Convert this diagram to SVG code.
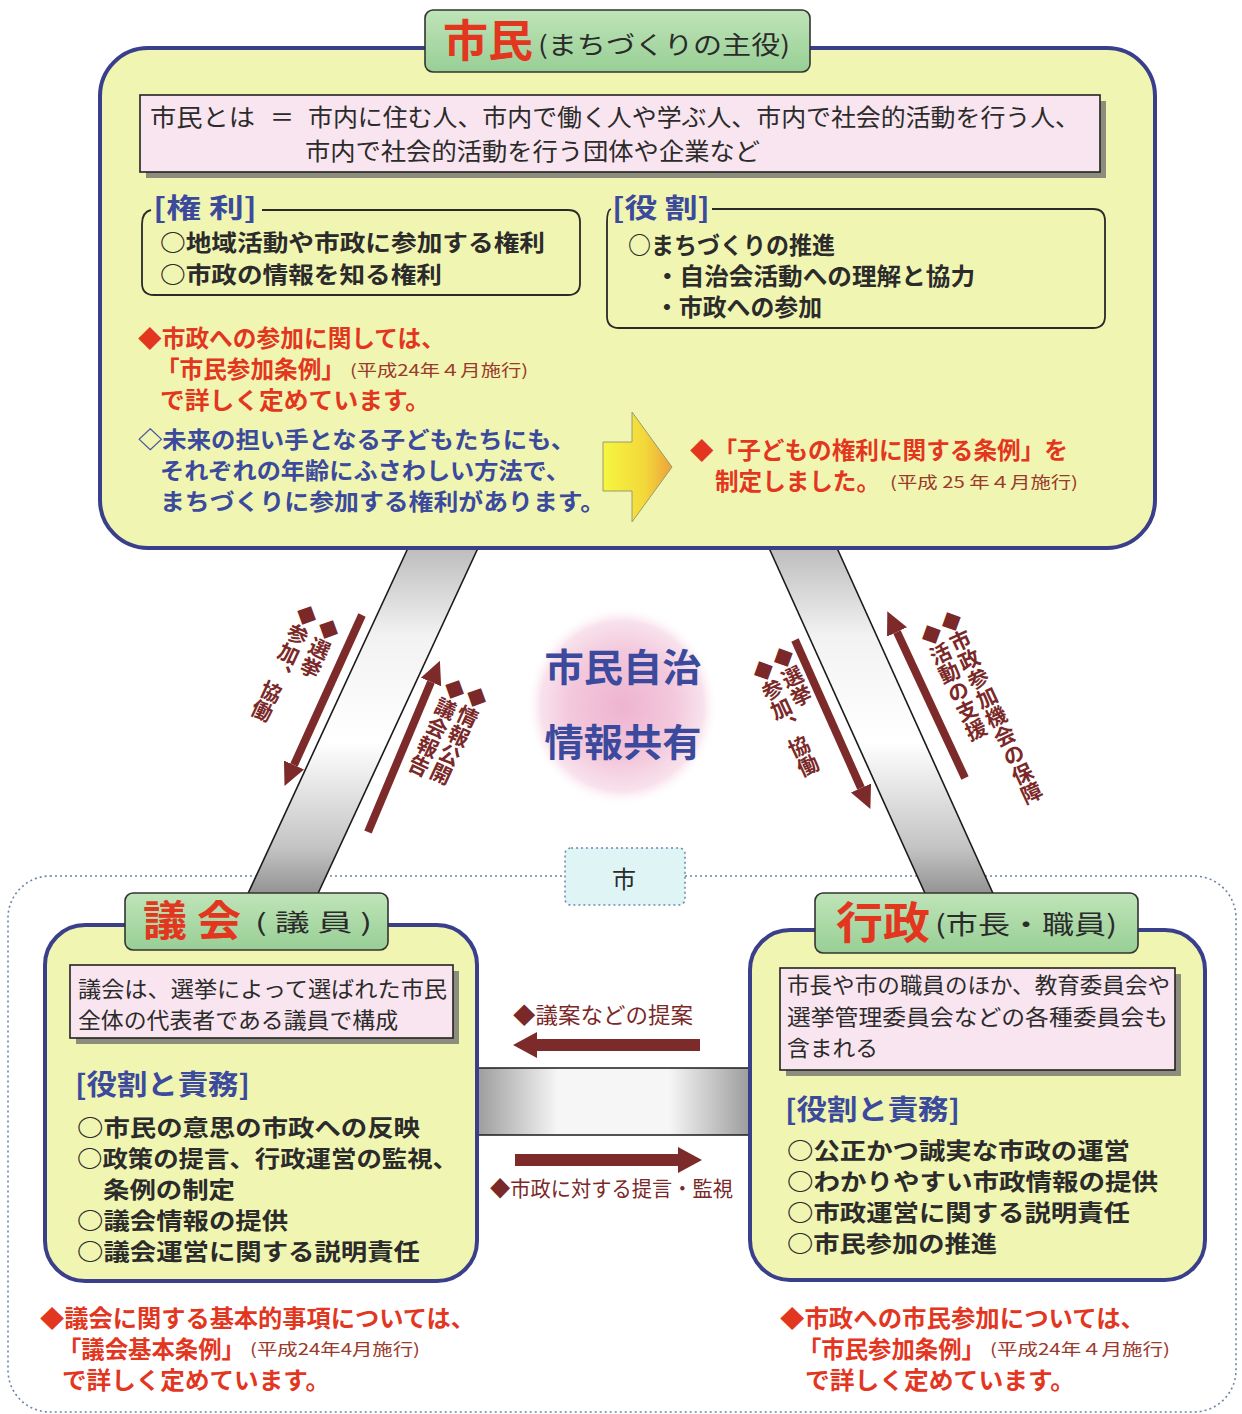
<svg xmlns="http://www.w3.org/2000/svg" width="1242" height="1414" viewBox="0 0 1242 1414">
<defs>
<style>
.t{font-family:'Noto Sans CJK JP','Noto Sans CJK SC',sans-serif}
.b{font-weight:700}
.dk{fill:#2b2b2b}
.red{fill:#e3361f}
.blue{fill:#3b4a9c}
.mar{fill:#7a2828}
.sm{font-size:16px;font-weight:400;fill:#9a3a2c}
.frame{fill:#f1f5b2;stroke:#3a3f8c;stroke-width:4}
.tab{fill:url(#tabg);stroke:#333;stroke-width:1.6}
.pink{fill:#f9e5ef;stroke:#222;stroke-width:1.6}
.shadow{fill:#6a6a6a;opacity:.75}
.outline{fill:none;stroke:#2a2a2a;stroke-width:1.8}
.arw{stroke:#7d2a2a;stroke-width:8;fill:none}
.edge{stroke:#1a1a1a;stroke-width:1.6}
.li{font-size:23.5px}
.lj{font-size:23px}
</style>
<linearGradient id="tabg" x1="0" y1="0" x2="0" y2="1">
<stop offset="0" stop-color="#bfe4b8"/><stop offset="1" stop-color="#98cf95"/>
</linearGradient>
<linearGradient id="bandL" gradientUnits="userSpaceOnUse" x1="0" y1="548" x2="0" y2="900">
<stop offset="0" stop-color="#bdbdbd"/><stop offset="0.25" stop-color="#f2f2f2"/><stop offset="0.55" stop-color="#ffffff"/><stop offset="0.85" stop-color="#c4c4c4"/><stop offset="1" stop-color="#8c8c8c"/>
</linearGradient>
<linearGradient id="bandH" gradientUnits="userSpaceOnUse" x1="475" y1="0" x2="752" y2="0">
<stop offset="0" stop-color="#9a9a9a"/><stop offset="0.3" stop-color="#f6f6f6"/><stop offset="0.7" stop-color="#f6f6f6"/><stop offset="1" stop-color="#9a9a9a"/>
</linearGradient>
<linearGradient id="yel" x1="0" y1="0" x2="1" y2="0">
<stop offset="0" stop-color="#f6f640"/><stop offset="0.6" stop-color="#f3d83a"/><stop offset="1" stop-color="#eea23a"/>
</linearGradient>
<radialGradient id="pinkc" cx="0.5" cy="0.5" r="0.5">
<stop offset="0" stop-color="#eeb4d0"/><stop offset="0.55" stop-color="#f3c8dc"/><stop offset="0.85" stop-color="#f8e2ec"/><stop offset="1" stop-color="#ffffff" stop-opacity="0"/>
</radialGradient>
<marker id="ah" markerUnits="userSpaceOnUse" markerWidth="24" markerHeight="24" refX="0" refY="11" orient="auto" viewBox="0 0 24 22">
<path d="M0,0 L23,11 L0,22 z" fill="#7d2a2a"/>
</marker>
</defs>
<rect width="1242" height="1414" fill="#ffffff"/>

<!-- dotted city boundary -->
<g id="city">
<rect x="8" y="876" width="1228" height="536" rx="42" fill="none" stroke="#6f83a8" stroke-width="1.6" stroke-dasharray="2,3"/>
<rect x="565" y="848" width="120" height="57" rx="6" fill="#dff5f5" stroke="#6f8ab0" stroke-width="1.6" stroke-dasharray="2,3"/>
<text class="t dk" x="624" y="888" font-size="24" text-anchor="middle">市</text>
</g>

<!-- connectors -->
<g id="connectors">
<polygon points="408,548 478,548 315,900 245,900" fill="url(#bandL)"/>
<line class="edge" x1="408" y1="548" x2="245" y2="900"/>
<line class="edge" x1="478" y1="548" x2="315" y2="900"/>
<polygon points="769,548 837,548 996,900 928,900" fill="url(#bandL)"/>
<line class="edge" x1="769" y1="548" x2="928" y2="900"/>
<line class="edge" x1="837" y1="548" x2="996" y2="900"/>
<rect x="470" y="1068" width="290" height="67" fill="url(#bandH)"/>
<line class="edge" x1="470" y1="1068" x2="760" y2="1068"/>
<line class="edge" x1="470" y1="1135" x2="760" y2="1135"/>

<line class="arw" x1="362" y1="615" x2="294" y2="765" marker-end="url(#ah)"/>
<line class="arw" x1="368" y1="832" x2="431" y2="682" marker-end="url(#ah)"/>
<line class="arw" x1="795" y1="640" x2="861" y2="788" marker-end="url(#ah)"/>
<line class="arw" x1="965" y1="778" x2="897" y2="632" marker-end="url(#ah)"/>

<polygon points="700,1039 537,1039 537,1032 513,1045 537,1058 537,1051 700,1051" fill="#7d2a2a"/>
<polygon points="515,1154 678,1154 678,1147 702,1160 678,1173 678,1166 515,1166" fill="#7d2a2a"/>

<g class="t b mar" font-size="21">
<text writing-mode="vertical-rl" transform="translate(333,620) rotate(25)">◆選挙</text>
<text writing-mode="vertical-rl" transform="translate(311,606) rotate(25)">◆参加、協働</text>
<text writing-mode="vertical-rl" transform="translate(481,688) rotate(25)">◆情報公開</text>
<text writing-mode="vertical-rl" transform="translate(459,680) rotate(25)">◆議会報告</text>
<text writing-mode="vertical-rl" transform="translate(779,648) rotate(-25)">◆選挙</text>
<text writing-mode="vertical-rl" transform="translate(759,661) rotate(-25)">◆参加、協働</text>
<text writing-mode="vertical-rl" transform="translate(947,612) rotate(-25)">◆市政参加機会の保障</text>
<text writing-mode="vertical-rl" transform="translate(927,625) rotate(-25)">◆活動の支援</text>
</g>
<text class="t mar" x="513" y="1023" font-size="22" textLength="180" lengthAdjust="spacingAndGlyphs">◆議案などの提案</text>
<text class="t mar" x="490" y="1196" font-size="21" textLength="243" lengthAdjust="spacingAndGlyphs">◆市政に対する提言・監視</text>
</g>

<!-- center -->
<g id="center">
<ellipse cx="622" cy="706" rx="96" ry="100" fill="url(#pinkc)"/>
<text class="t b blue" x="623" y="681" font-size="38" text-anchor="middle" textLength="157" lengthAdjust="spacingAndGlyphs">市民自治</text>
<text class="t b blue" x="623" y="756" font-size="38" text-anchor="middle" textLength="157" lengthAdjust="spacingAndGlyphs">情報共有</text>
</g>

<!-- citizens node -->
<g id="shimin">
<rect class="frame" x="100" y="48" width="1055" height="500" rx="48"/>
<rect class="tab" x="425" y="10" width="385" height="62" rx="8"/>
<text class="t b red" x="443" y="57" font-size="44" textLength="90" lengthAdjust="spacingAndGlyphs">市民</text>
<text class="t dk" x="538" y="54" font-size="25" textLength="252" lengthAdjust="spacingAndGlyphs">(まちづくりの主役)</text>

<rect class="shadow" x="146" y="101" width="960" height="77"/>
<rect class="pink" x="140" y="95" width="960" height="77"/>
<text class="t dk" x="150" y="126" font-size="24" textLength="105" lengthAdjust="spacingAndGlyphs">市民とは</text>
<text class="t dk" x="270" y="126" font-size="24">＝</text>
<text class="t dk" x="308" y="126" font-size="24" textLength="772" lengthAdjust="spacingAndGlyphs">市内に住む人、市内で働く人や学ぶ人、市内で社会的活動を行う人、</text>
<text class="t dk" x="305" y="160" font-size="24" textLength="455" lengthAdjust="spacingAndGlyphs">市内で社会的活動を行う団体や企業など</text>

<path class="outline" d="M262,210 H568 Q580,210 580,222 V283 Q580,295 568,295 H154 Q142,295 142,283 V224 Q142,212 151,210"/>
<text class="t b blue" x="153" y="218" font-size="27" textLength="104" lengthAdjust="spacingAndGlyphs">[権 利]</text>
<text class="t b dk lj" x="160" y="251" textLength="385" lengthAdjust="spacingAndGlyphs">○地域活動や市政に参加する権利</text>
<text class="t b dk lj" x="160" y="283" textLength="282" lengthAdjust="spacingAndGlyphs">○市政の情報を知る権利</text>

<path class="outline" d="M712,209 H1093 Q1105,209 1105,221 V316 Q1105,328 1093,328 H619 Q607,328 607,316 V222 Q607,210 611,209"/>
<text class="t b blue" x="612" y="218" font-size="27" textLength="98" lengthAdjust="spacingAndGlyphs">[役 割]</text>
<text class="t b dk li" x="628" y="254" textLength="207" lengthAdjust="spacingAndGlyphs">○まちづくりの推進</text>
<text class="t b dk li" x="655" y="285" textLength="320" lengthAdjust="spacingAndGlyphs">・自治会活動への理解と協力</text>
<text class="t b dk li" x="655" y="316" textLength="167" lengthAdjust="spacingAndGlyphs">・市政への参加</text>

<text class="t b red li" x="138" y="347" textLength="307" lengthAdjust="spacingAndGlyphs">◆市政への参加に関しては、</text>
<text class="t b red li" x="156" y="378" textLength="189" lengthAdjust="spacingAndGlyphs">「市民参加条例」</text>
<text class="t sm" x="350" y="376" textLength="178" lengthAdjust="spacingAndGlyphs">(平成24年４月施行)</text>
<text class="t b red li" x="160" y="409" textLength="270" lengthAdjust="spacingAndGlyphs">で詳しく定めています。</text>

<text class="t b blue lj" x="138" y="448" textLength="437" lengthAdjust="spacingAndGlyphs">◇未来の担い手となる子どもたちにも、</text>
<text class="t b blue lj" x="160" y="479" textLength="410" lengthAdjust="spacingAndGlyphs">それぞれの年齢にふさわしい方法で、</text>
<text class="t b blue lj" x="160" y="510" textLength="445" lengthAdjust="spacingAndGlyphs">まちづくりに参加する権利があります。</text>

<polygon points="603,442 632,442 632,412 672,467 632,522 632,491 603,491" fill="url(#yel)" stroke="#9a9a70" stroke-width="1"/>

<text class="t b red li" x="690" y="459" textLength="378" lengthAdjust="spacingAndGlyphs">◆「子どもの権利に関する条例」を</text>
<text class="t b red li" x="715" y="490" textLength="165" lengthAdjust="spacingAndGlyphs">制定しました。</text>
<text class="t sm" x="890" y="488" textLength="188" lengthAdjust="spacingAndGlyphs">(平成 25 年４月施行)</text>
</g>

<!-- council node -->
<g id="gikai">
<rect class="frame" x="45" y="925" width="432" height="356" rx="40"/>
<rect class="tab" x="125" y="893" width="263" height="57" rx="8"/>
<text class="t b red" x="143" y="936" font-size="42" textLength="98" lengthAdjust="spacingAndGlyphs">議 会</text>
<text class="t dk" x="255" y="931" font-size="24" textLength="117" lengthAdjust="spacingAndGlyphs">( 議 員 )</text>
<rect class="shadow" x="76" y="971" width="383" height="73"/>
<rect class="pink" x="70" y="965" width="383" height="73"/>
<text class="t dk" x="78" y="997" font-size="22" textLength="369" lengthAdjust="spacingAndGlyphs">議会は、選挙によって選ばれた市民</text>
<text class="t dk" x="78" y="1028" font-size="22" textLength="320" lengthAdjust="spacingAndGlyphs">全体の代表者である議員で構成</text>
<text class="t b blue" x="75" y="1095" font-size="28" textLength="175" lengthAdjust="spacingAndGlyphs">[役割と責務]</text>
<text class="t b dk lj" x="77" y="1136" textLength="343" lengthAdjust="spacingAndGlyphs">○市民の意思の市政への反映</text>
<text class="t b dk lj" x="77" y="1167" textLength="381" lengthAdjust="spacingAndGlyphs">○政策の提言、行政運営の監視、</text>
<text class="t b dk lj" x="103" y="1198" textLength="132" lengthAdjust="spacingAndGlyphs">条例の制定</text>
<text class="t b dk lj" x="77" y="1229" textLength="211" lengthAdjust="spacingAndGlyphs">○議会情報の提供</text>
<text class="t b dk lj" x="77" y="1260" textLength="343" lengthAdjust="spacingAndGlyphs">○議会運営に関する説明責任</text>
<text class="t b red li" x="40" y="1327" textLength="435" lengthAdjust="spacingAndGlyphs">◆議会に関する基本的事項については、</text>
<text class="t b red li" x="58" y="1358" textLength="187" lengthAdjust="spacingAndGlyphs">「議会基本条例」</text>
<text class="t sm" x="250" y="1355" textLength="170" lengthAdjust="spacingAndGlyphs">(平成24年4月施行)</text>
<text class="t b red li" x="62" y="1389" textLength="268" lengthAdjust="spacingAndGlyphs">で詳しく定めています。</text>
</g>

<!-- administration node -->
<g id="gyosei">
<rect class="frame" x="750" y="930" width="455" height="350" rx="40"/>
<rect class="tab" x="815" y="893" width="323" height="60" rx="8"/>
<text class="t b red" x="836" y="939" font-size="44" textLength="94" lengthAdjust="spacingAndGlyphs">行政</text>
<text class="t dk" x="935" y="934" font-size="26" textLength="182" lengthAdjust="spacingAndGlyphs">(市長・職員)</text>
<rect class="shadow" x="786" y="974" width="395" height="102"/>
<rect class="pink" x="780" y="968" width="395" height="102"/>
<text class="t dk" x="787" y="993" font-size="22" textLength="383" lengthAdjust="spacingAndGlyphs">市長や市の職員のほか、教育委員会や</text>
<text class="t dk" x="787" y="1025" font-size="22" textLength="381" lengthAdjust="spacingAndGlyphs">選挙管理委員会などの各種委員会も</text>
<text class="t dk" x="787" y="1056" font-size="22" textLength="91" lengthAdjust="spacingAndGlyphs">含まれる</text>
<text class="t b blue" x="785" y="1120" font-size="28" textLength="175" lengthAdjust="spacingAndGlyphs">[役割と責務]</text>
<text class="t b dk lj" x="787" y="1159" textLength="343" lengthAdjust="spacingAndGlyphs">○公正かつ誠実な市政の運営</text>
<text class="t b dk lj" x="787" y="1190" textLength="371" lengthAdjust="spacingAndGlyphs">○わかりやすい市政情報の提供</text>
<text class="t b dk lj" x="787" y="1221" textLength="343" lengthAdjust="spacingAndGlyphs">○市政運営に関する説明責任</text>
<text class="t b dk lj" x="787" y="1252" textLength="210" lengthAdjust="spacingAndGlyphs">○市民参加の推進</text>
<text class="t b red li" x="780" y="1327" textLength="365" lengthAdjust="spacingAndGlyphs">◆市政への市民参加については、</text>
<text class="t b red li" x="798" y="1358" textLength="187" lengthAdjust="spacingAndGlyphs">「市民参加条例」</text>
<text class="t sm" x="990" y="1355" textLength="180" lengthAdjust="spacingAndGlyphs">(平成24年４月施行)</text>
<text class="t b red li" x="805" y="1389" textLength="270" lengthAdjust="spacingAndGlyphs">で詳しく定めています。</text>
</g>
</svg>
